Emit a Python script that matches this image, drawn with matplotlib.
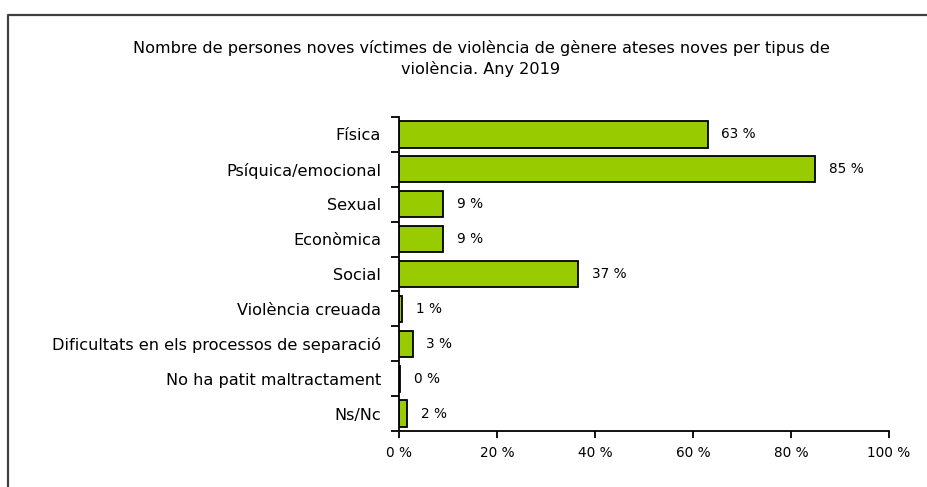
import matplotlib.pyplot as plt
from matplotlib.lines import Line2D
import numpy as np

categories = ["Física", "Psíquica/emocional", "Sexual", "Econòmica", "Social",
              "Violència creuada", "Dificultats en els processos de separació",
              "No ha patit maltractament", "Ns/Nc"]
values = [63, 85, 9, 9, 36.6, 0.6, 2.8, 0.3, 1.6]
value_labels = ["63 %", "85 %", "9 %", "9 %", "37 %", "1 %", "3 %", "0 %", "2 %"]
x_ticks = [0, 20, 40, 60, 80, 100]

title = ("Nombre de persones noves víctimes de violència de gènere ateses noves per tipus de\n"
         "violència. Any 2019")

plt.rcParams['font.family'] = ['DejaVu Sans']

fig = plt.figure(figsize=(9.28, 4.87), dpi=100)
ax = fig.add_axes([399/928, 1 - 431/487, 490/928, (431 - 117)/487])

y = np.arange(len(categories))
ax.barh(y, values, height=0.75, color="#99cc00", edgecolor="black", linewidth=1.3)

for yi, v, lab in zip(y, values, value_labels):
    ax.text(v + 2.8, yi, lab, va="center", ha="left", fontsize=9.8)

ax.set_xlim(0, 100)
ax.set_ylim(len(categories) - 0.5, -0.5)
ax.set_xticks(x_ticks)
ax.set_xticklabels([f"{t} %" for t in x_ticks], fontsize=9.8)
ax.set_yticks(y)
ax.set_yticklabels(categories, fontsize=11.6)
ax.set_yticks(np.arange(len(categories) + 1) - 0.5, minor=True)
ax.tick_params(axis="y", which="major", length=0, pad=13)
ax.tick_params(axis="y", which="minor", length=6, width=1.3, direction="out")
ax.tick_params(axis="x", length=5, width=1.3, direction="out", pad=6)

for s in ["top", "right"]:
    ax.spines[s].set_visible(False)
for s in ["left", "bottom"]:
    ax.spines[s].set_linewidth(1.3)

fig.text(481/928, 1 - 40/487, title, ha="center", va="top", fontsize=11.6,
         linespacing=1.35)

# outer frame (left and top edges only visible)
fig.add_artist(Line2D([7.5/928, 7.5/928, 1.0], [0.0, 1 - 14.5/487, 1 - 14.5/487],
                      transform=fig.transFigure, color="#404040", linewidth=1.6))

fig.savefig("out.png", dpi=100, facecolor="white")
